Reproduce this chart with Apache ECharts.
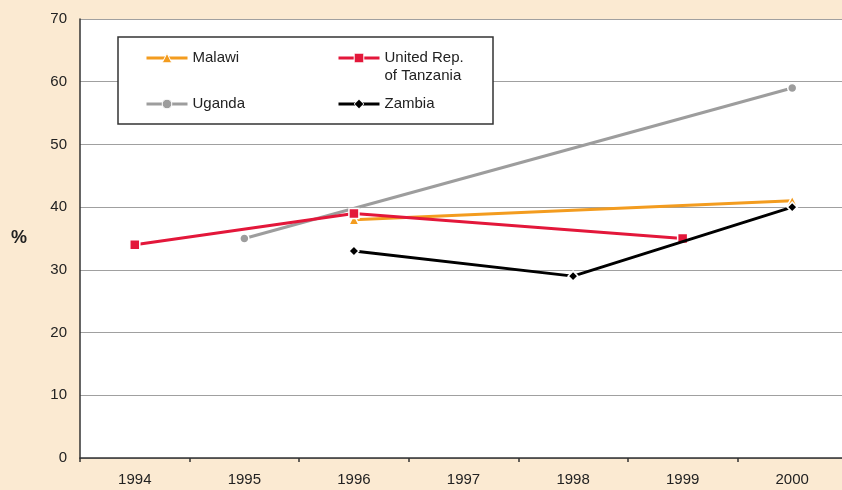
<!DOCTYPE html>
<html>
<head>
<meta charset="utf-8">
<script src="https://cdn.jsdelivr.net/npm/echarts@6/dist/echarts.min.js"></script>
<style>
  html, body { margin: 0; padding: 0; background: #fbead2; }
  #chart { width: 842px; height: 490px; }
</style>
</head>
<body>
<div id="chart"></div>
<script>
const years = ['1994', '1995', '1996', '1997', '1998', '1999', '2000'];
const malawi = [null, null, 38, null, null, null, 41];
const tanzania = [34, null, 39, null, null, 35, null];
const uganda = [null, 35, null, null, null, null, 59];
const zambia = [null, null, 33, null, 29, null, 40];

const FONT = '"Liberation Sans", Arial, sans-serif';

const chart = echarts.init(document.getElementById('chart'));

// shared look for each line
const mkSeries = (name, data, color, symbol, size, z) => ({
  name: name,
  type: 'line',
  data: data,
  connectNulls: true,
  symbol: symbol,
  symbolSize: size,
  z: z,
  lineStyle: { color: color, width: 3 },
  itemStyle: { color: color, borderColor: '#fff', borderWidth: 1.5 },
  emphasis: { disabled: true }
});

const legendText = { fontFamily: FONT, fontSize: 15, color: '#222', lineHeight: 18 };

chart.setOption({
  backgroundColor: '#fbead2',
  animation: false,
  textStyle: { fontFamily: FONT },
  grid: {
    left: 80, right: -5, top: 19, bottom: 32,
    outerBoundsMode: 'none',
    containLabel: false,
    backgroundColor: '#fff', show: true, borderWidth: 0
  },
  graphic: [{
    type: 'rect',
    shape: { x: 118, y: 37, width: 375, height: 87 },
    style: { fill: '#fff', stroke: '#333', lineWidth: 1.5 },
    z: 5
  }],
  legend: [{
    data: ['Malawi', 'Uganda'],
    orient: 'vertical',
    left: 145, top: 49,
    padding: 0,
    itemWidth: 41, itemHeight: 12, itemGap: 28,
    lineStyle: { width: 3 },
    itemStyle: { borderWidth: 1 },
    textStyle: legendText,
    z: 10
  }, {
    data: ['United Rep. of Tanzania', 'Zambia'],
    orient: 'vertical',
    left: 337, top: 31,
    padding: 0,
    itemWidth: 41, itemHeight: 12, itemGap: 10,
    lineStyle: { width: 3 },
    itemStyle: { borderWidth: 1 },
    textStyle: legendText,
    formatter: n => n === 'Zambia' ? n : '\nUnited Rep.\nof Tanzania',
    z: 10
  }],
  xAxis: {
    type: 'category',
    data: years,
    boundaryGap: true,
    axisLine: { lineStyle: { color: '#333', width: 1.5 } },
    axisTick: { show: true, length: 4, lineStyle: { color: '#333', width: 1.5 } },
    axisLabel: { color: '#222', fontSize: 15, margin: 14, fontFamily: FONT },
    splitLine: { show: false }
  },
  yAxis: {
    type: 'value',
    min: 0, max: 70, interval: 10,
    name: '%',
    nameLocation: 'middle',
    nameRotate: 0,
    nameGap: 53,
    nameTextStyle: { fontFamily: FONT, fontWeight: 'bold', fontSize: 18, color: '#222' },
    axisLine: { show: true, lineStyle: { color: '#333', width: 1.5 } },
    axisTick: { show: false },
    axisLabel: { color: '#222', fontSize: 15, margin: 13, fontFamily: FONT },
    splitLine: { lineStyle: { color: '#a0a0a0', width: 1.2 } }
  },
  series: [
    mkSeries('Uganda', uganda, '#9d9d9d', 'circle', 9, 2),
    mkSeries('Malawi', malawi, '#f39c1f', 'triangle', 10, 3),
    mkSeries('United Rep. of Tanzania', tanzania, '#e3173a', 'rect', 10, 4),
    mkSeries('Zambia', zambia, '#000000', 'diamond', 10, 5)
  ]
});
</script>
</body>
</html>
